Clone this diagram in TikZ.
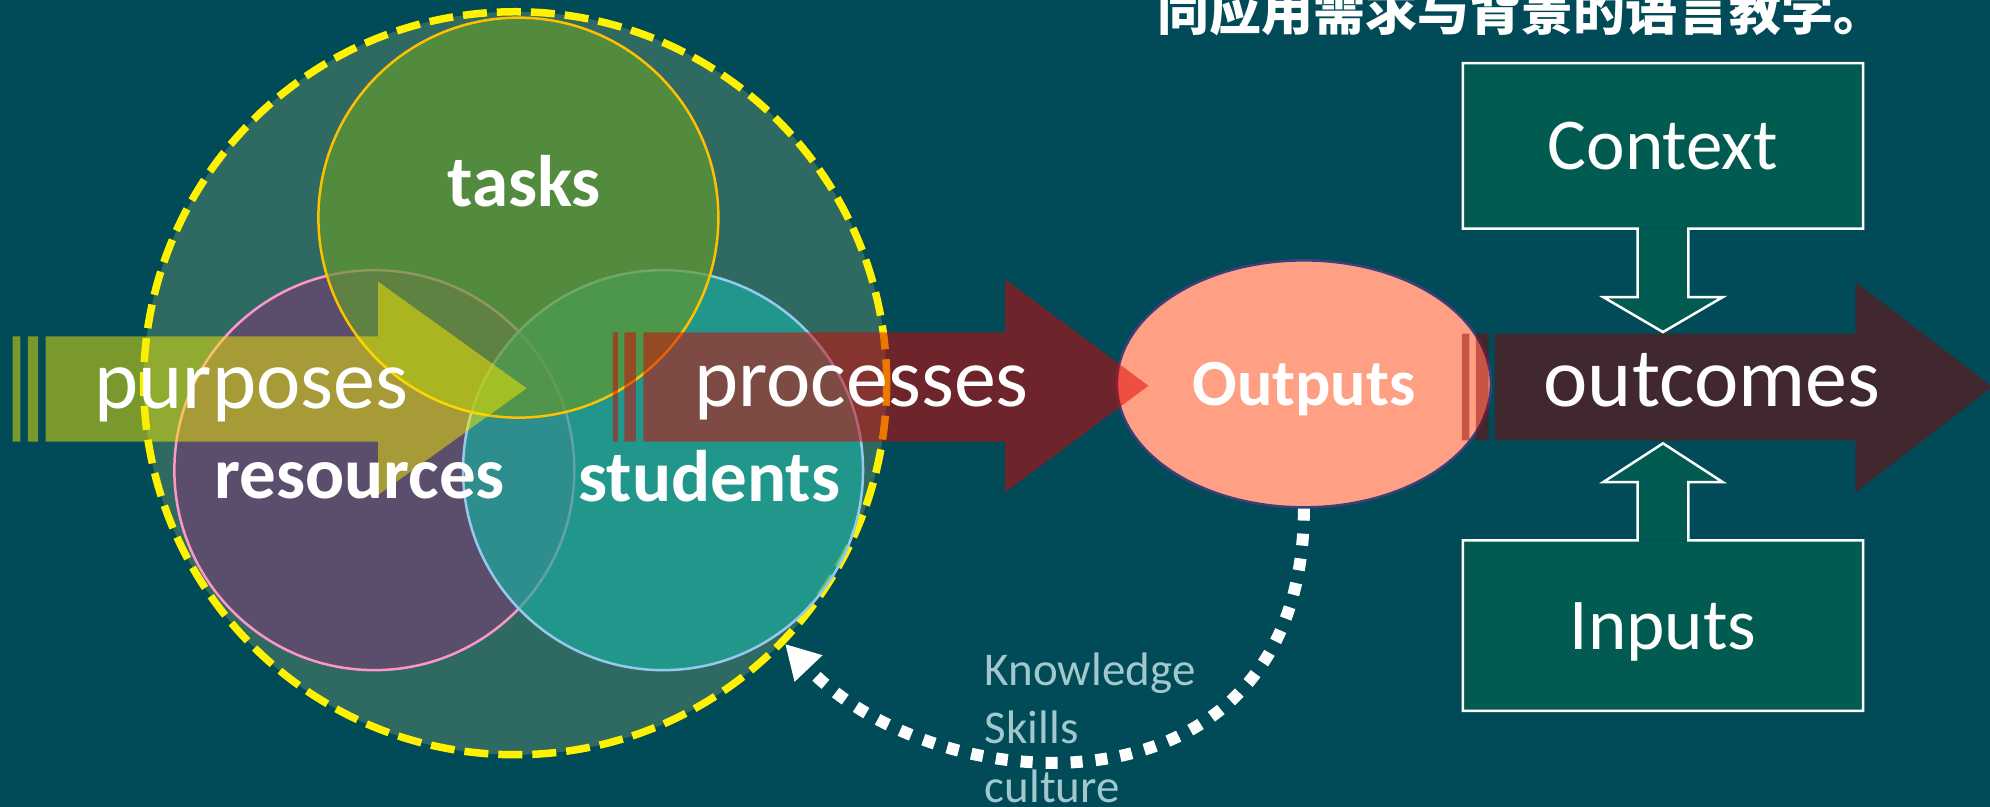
\documentclass[tikz,border=0pt]{standalone}
\usepackage{fontspec}
\setmainfont{Carlito}
\newfontfamily\cjk{Noto Sans CJK SC}
\usetikzlibrary{shapes.geometric,arrows.meta,calc}
\definecolor{bg}{RGB}{1,74,87}
\definecolor{bigfill}{RGB}{47,106,98}
\definecolor{resfill}{RGB}{110,67,115}
\definecolor{stufill}{RGB}{28,169,155}
\definecolor{taskfill}{RGB}{97,152,47}
\definecolor{taskline}{RGB}{255,192,0}
\definecolor{resline}{RGB}{255,150,200}
\definecolor{stuline}{RGB}{150,200,240}
\definecolor{purp}{RGB}{248,237,0}
\definecolor{proc}{RGB}{220,0,0}
\definecolor{outc}{RGB}{139,0,0}
\definecolor{outfill}{RGB}{255,160,132}
\definecolor{outline}{RGB}{60,63,120}
\definecolor{boxgreen}{RGB}{2,91,81}
\definecolor{kcol}{RGB}{160,200,205}
\begin{document}
\begin{tikzpicture}[x=1.269bp,y=-1.269bp,
  venn/.style={circle, minimum size=400bp, inner sep=0pt, fill opacity=0.7, line width=2.5bp},
  biglbl/.style={anchor=base, inner sep=0pt, text=white, font=\fontsize{84bp}{90bp}\selectfont},
  vennlbl/.style={anchor=base, inner sep=0pt, text=white, font=\bfseries\fontsize{73bp}{78bp}\selectfont},
  klbl/.style={anchor=base west, inner sep=0pt, text=kcol, font=\fontsize{47bp}{52bp}\selectfont},
  gbox/.style={rectangle, minimum width=399.7bp, inner sep=0pt, fill=boxgreen, text=white,
     font=\fontsize{73bp}{78bp}\selectfont, text height=47bp, text depth=0pt},
  boxline/.style={draw=white, line width=2.5bp, line join=miter},
  dotline/.style={draw=white, line width=12bp, dash pattern=on 12bp off 13bp,
     -{Triangle[length=34bp,width=36bp]}}
]
\useasboundingbox (0,0) rectangle (1568.2,635.9);
\fill[bg] (0,0) rectangle (1568.2,635.9);

% big dashed circle
\node[circle, minimum size=743bp, inner sep=0pt, fill=bigfill, draw=yellow, line width=7.5bp,
      dash pattern=on 24bp off 10bp] (big) at (406,302) {};

% venn circles
\node[venn, fill=resfill, draw=resline] (res) at (295,370.5) {};
\node[venn, fill=stufill, draw=stuline] (stu) at (522.5,370.5) {};
\node[venn, fill=taskfill, draw=taskline] (tsk) at (408.5,171.5) {};

% purposes arrow
\fill[purp, fill opacity=0.49]
  (10,265) rectangle (16,348)
  (22,265) rectangle (30,348)
  (36,265) -- (298,265) -- (298,222) -- (415,306) -- (298,390) -- (298,348) -- (36,348) -- cycle;

% outputs ellipse
\node[ellipse, minimum width=374bp, minimum height=247bp, inner sep=0pt, fill=outfill,
      draw=outline, line width=2.5bp, text=white,
      font=\bfseries\fontsize{66bp}{70bp}\selectfont, text height=42.5bp, text depth=0pt]
      (outputs) at (1027.5,302.5) {Outputs};

% processes arrow
\fill[proc, fill opacity=0.5]
  (483,262) rectangle (487,348)
  (492,262) rectangle (501,348)
  (507,262) -- (792,262) -- (792,220) -- (905,304) -- (792,388) -- (792,348) -- (507,348) -- cycle;

% outcomes arrow
\fill[outc, fill opacity=0.47]
  (1152,263) rectangle (1158,347)
  (1163,263) rectangle (1173,347)
  (1178,263) -- (1462,263) -- (1462,222) -- (1570,305) -- (1462,388) -- (1462,347) -- (1178,347) -- cycle;

% context box with down arrow
\node[gbox, minimum height=165bp] (context) at (1310.5,115) {Context};
\fill[boxgreen] ($(context.south)+(-20,0)$) -- ++(0,54) -- ++(-27,0) -- ($(context.south)+(0,81.5)$)
  -- ($(context.south)+(47,54)$) -- ($(context.south)+(20,54)$) -- ($(context.south)+(20,0)$) -- cycle;
\draw[boxline] ($(context.south)+(20,0)$) -- (context.south east) -- (context.north east)
  -- (context.north west) -- (context.south west) -- ($(context.south)+(-20,0)$) -- ++(0,54)
  -- ++(-27,0) -- ($(context.south)+(0,81.5)$) -- ($(context.south)+(47,54)$)
  -- ($(context.south)+(20,54)$) -- cycle;

% inputs box with up arrow
\node[gbox, minimum height=170bp] (inputs) at (1310.5,493) {Inputs};
\fill[boxgreen] ($(inputs.north)+(-20,0)$) -- ++(0,-46) -- ++(-27,0) -- ($(inputs.north)+(0,-76.5)$)
  -- ($(inputs.north)+(47,-46)$) -- ($(inputs.north)+(20,-46)$) -- ($(inputs.north)+(20,0)$) -- cycle;
\draw[boxline] ($(inputs.north)+(20,0)$) -- (inputs.north east) -- (inputs.south east)
  -- (inputs.south west) -- (inputs.north west) -- ($(inputs.north)+(-20,0)$) -- ++(0,-46)
  -- ++(-27,0) -- ($(inputs.north)+(0,-76.5)$) -- ($(inputs.north)+(47,-46)$)
  -- ($(inputs.north)+(20,-46)$) -- cycle;

% feedback dotted arrow
\draw[dotline] (outputs.south) .. controls +(0,250) and (740,635) .. (big.-44.5);

% labels
\node[biglbl] (lpurposes) at (198,322) {purposes};
\node[biglbl] (lprocesses) at (679,320) {processes};
\node[biglbl] (loutcomes) at (1349,320) {outcomes};
\node[vennlbl] (ltasks) at (413,163) {tasks};
\node[vennlbl] (lres) at (283.5,393) {resources};
\node[vennlbl] (lstu) at (559,395) {students};
\node[klbl] (lknow) at (776,540) {Knowledge};
\node[klbl] (lskills) at (776,586) {Skills};
\node[klbl] (lcult) at (776,632) {culture};
\node[anchor=base west, inner sep=0pt, text=white, font=\cjk\bfseries\fontsize{52bp}{56bp}\selectfont]
  (title) at (912,24) {同应用需求与背景的语言教学。};
\end{tikzpicture}
\end{document}
